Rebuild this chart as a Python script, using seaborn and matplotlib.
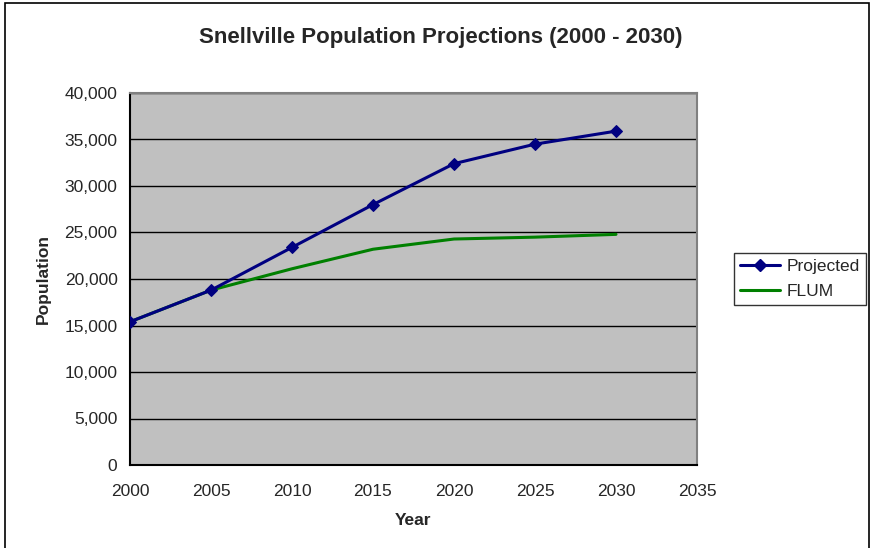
import matplotlib
matplotlib.use("Agg")
import matplotlib.pyplot as plt
import seaborn as sns
import pandas as pd
from matplotlib.ticker import FuncFormatter
from matplotlib.patches import Rectangle
from matplotlib.lines import Line2D

years = [2000, 2005, 2010, 2015, 2020, 2025, 2030]
projected = [15400, 18800, 23400, 28000, 32400, 34500, 35900]
flum = [15400, 18800, 21100, 23200, 24300, 24500, 24800]
series_names = ["Projected", "FLUM"]
x_ticks = [2000, 2005, 2010, 2015, 2020, 2025, 2030, 2035]
y_ticks = [0, 5000, 10000, 15000, 20000, 25000, 30000, 35000, 40000]

df_proj = pd.DataFrame({"Year": years, "Population": projected})
df_flum = pd.DataFrame({"Year": years, "Population": flum})

sns.set_style("white")
plt.rcParams["font.family"] = ["Liberation Sans", "DejaVu Sans"]

fig = plt.figure(figsize=(8.74, 5.48), dpi=100)
ax = fig.add_axes([130 / 874, 1 - 465 / 548, (697 - 130) / 874, (465 - 93) / 548])
ax.set_facecolor("#C0C0C0")

sns.lineplot(data=df_flum, x="Year", y="Population", color="#008000",
             linewidth=2.2, ax=ax, zorder=3)
sns.lineplot(data=df_proj, x="Year", y="Population", color="#000080",
             marker="D", markersize=6.5, markeredgecolor="#000080",
             linewidth=2.2, ax=ax, zorder=4)

ax.set_xlim(2000, 2035)
ax.set_ylim(0, 40000)
ax.set_xticks(x_ticks)
ax.set_yticks(y_ticks)
ax.yaxis.set_major_formatter(FuncFormatter(lambda v, p: f"{int(v):,}"))
ax.grid(axis="y", color="black", linewidth=1)
ax.grid(axis="x", visible=False)
ax.set_axisbelow(True)
ax.tick_params(axis="both", direction="out", length=5, width=1, color="black",
               labelsize=12.5, pad=4)
ax.tick_params(axis="x", pad=9)
for s in ["left", "bottom"]:
    ax.spines[s].set_color("black")
    ax.spines[s].set_linewidth(1.5)
for s in ["top", "right"]:
    ax.spines[s].set_color("#808080")
    ax.spines[s].set_linewidth(1.5)

ax.set_xlabel("Year", fontsize=12.5, fontweight="bold", labelpad=10)
ax.set_ylabel("Population", fontsize=12.5, fontweight="bold", labelpad=10)
fig.text(441 / 874, 1 - 38 / 548, "Snellville Population Projections (2000 - 2030)",
         ha="center", va="center", fontsize=16, fontweight="bold")

handles = [Line2D([0], [0], color="#000080", marker="D", markersize=6, linewidth=2.2),
           Line2D([0], [0], color="#008000", linewidth=2.2)]
leg = fig.legend(handles, series_names, loc="center left",
                 bbox_to_anchor=(734 / 874, 1 - 279 / 548), fontsize=12.5,
                 frameon=True, fancybox=False, edgecolor="black",
                 handlelength=2.3, borderpad=0.35, labelspacing=0.6,
                 handletextpad=0.4, borderaxespad=0)
leg.get_frame().set_linewidth(1)

fig.patches.append(Rectangle((5 / 874, -3 / 548), 864 / 874, 548 / 548,
                             transform=fig.transFigure, fill=False,
                             edgecolor="black", linewidth=1.2))

fig.savefig("out.png", dpi=100)
